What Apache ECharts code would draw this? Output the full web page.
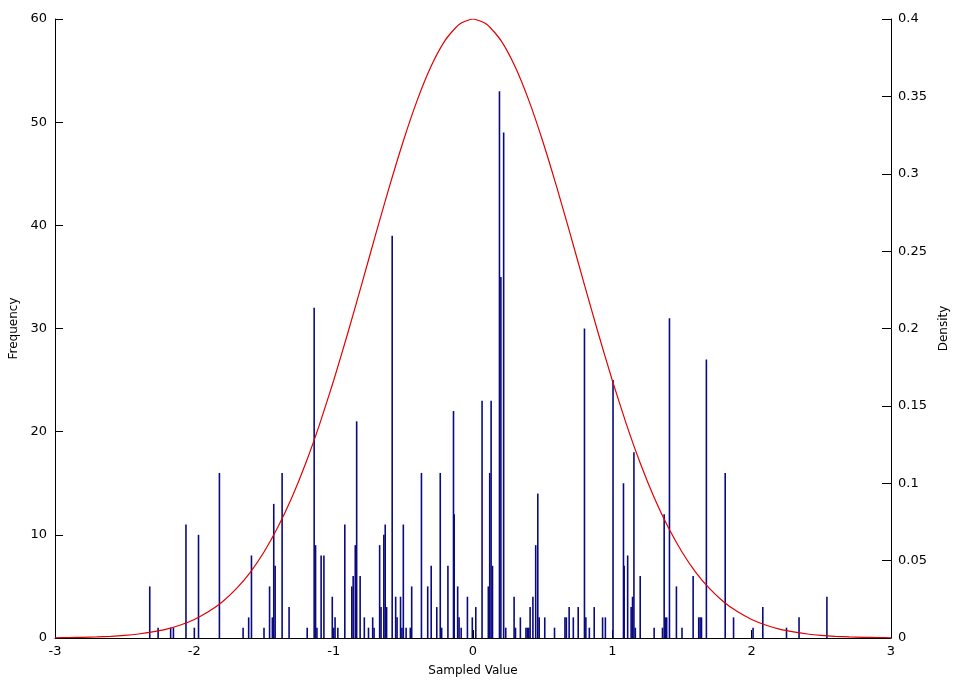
<!DOCTYPE html>
<html>
<head>
<meta charset="utf-8">
<script src="https://cdn.jsdelivr.net/npm/echarts@6/dist/echarts.min.js"></script>
<style>
  html, body { margin: 0; padding: 0; background: #fff; }
  #chart { width: 954px; height: 686px; }
</style>
</head>
<body>
<div id="chart"></div>
<script>
const sampleX = [
  -2.32, -2.26, -2.17, -2.15, -2.06, -2.00, -1.97, -1.82, -1.65, -1.61,
  -1.59, -1.50, -1.46, -1.44, -1.43, -1.42, -1.37, -1.32, -1.19, -1.14,
  -1.13, -1.12, -1.09, -1.07, -1.01, -1.00, -0.99, -0.97, -0.92, -0.87,
  -0.86, -0.845, -0.835, -0.81, -0.78, -0.75, -0.72, -0.71, -0.67, -0.66,
  -0.64, -0.63, -0.62, -0.58, -0.555, -0.545, -0.52, -0.51, -0.50, -0.48,
  -0.45, -0.44, -0.37, -0.325, -0.30, -0.26, -0.235, -0.225, -0.18, -0.14,
  -0.135, -0.11, -0.10, -0.085, -0.04, -0.005, 0.02, 0.065, 0.11, 0.12,
  0.13, 0.14, 0.19, 0.20, 0.22, 0.235, 0.295, 0.305, 0.34, 0.38,
  0.39, 0.40, 0.41, 0.43, 0.45, 0.465, 0.475, 0.515, 0.585, 0.66,
  0.67, 0.69, 0.72, 0.755, 0.80, 0.81, 0.835, 0.87, 0.93, 0.95,
  1.005, 1.08, 1.085, 1.11, 1.135, 1.145, 1.155, 1.165, 1.20, 1.30,
  1.36, 1.372, 1.38, 1.39, 1.41, 1.46, 1.50, 1.58, 1.62, 1.63,
  1.64, 1.675, 1.81, 1.87, 2.01, 2.08, 2.25, 2.34, 2.54
];
const frequency = [
  5, 1, 1, 1, 11, 1, 10, 16, 1, 2,
  8, 1, 5, 2, 13, 7, 16, 3, 1, 32,
  9, 1, 8, 8, 4, 1, 2, 1, 11, 5,
  6, 9, 21, 6, 2, 1, 2, 1, 9, 3,
  10, 11, 3, 39, 4, 2, 4, 1, 11, 1,
  1, 5, 16, 5, 7, 3, 16, 1, 7, 22,
  12, 5, 2, 1, 4, 2, 3, 23, 5, 16,
  23, 7, 53, 35, 49, 1, 4, 1, 2, 1,
  1, 1, 3, 4, 9, 14, 2, 2, 1, 2,
  2, 3, 2, 3, 30, 2, 1, 3, 2, 2,
  25, 15, 7, 8, 3, 4, 18, 1, 6, 1,
  1, 12, 2, 2, 31, 5, 1, 6, 2, 2,
  2, 27, 16, 2, 1, 3, 1, 2, 4
];

// density curve, read at steps of 0.1
const curveX = [
  -3.0, -2.9, -2.8, -2.7, -2.6, -2.5, -2.4, -2.3, -2.2, -2.1,
  -2.0, -1.9, -1.8, -1.7, -1.6, -1.5, -1.4, -1.3, -1.2, -1.1,
  -1.0, -0.9, -0.8, -0.7, -0.6, -0.5, -0.4, -0.3, -0.2, -0.1,
  0.0,
  0.1, 0.2, 0.3, 0.4, 0.5, 0.6, 0.7, 0.8, 0.9, 1.0,
  1.1, 1.2, 1.3, 1.4, 1.5, 1.6, 1.7, 1.8, 1.9, 2.0,
  2.1, 2.2, 2.3, 2.4, 2.5, 2.6, 2.7, 2.8, 2.9, 3.0
];
const density = [
  0.0001, 0.0003, 0.0004, 0.0007, 0.0011, 0.0017, 0.0026, 0.0039, 0.0057, 0.0084,
  0.0120, 0.0169, 0.0233, 0.0317, 0.0423, 0.0556, 0.0717, 0.0908, 0.1131, 0.1384,
  0.1664, 0.1966, 0.2282, 0.2603, 0.2917, 0.3212, 0.3476, 0.3696, 0.3862, 0.3965,
  0.4000,
  0.3965, 0.3862, 0.3696, 0.3476, 0.3212, 0.2917, 0.2603, 0.2282, 0.1966, 0.1664,
  0.1384, 0.1131, 0.0908, 0.0717, 0.0556, 0.0423, 0.0317, 0.0233, 0.0169, 0.0120,
  0.0084, 0.0057, 0.0039, 0.0026, 0.0017, 0.0011, 0.0007, 0.0004, 0.0003, 0.0001
];

const font = 'DejaVu Sans';
const chart = echarts.init(document.getElementById('chart'));

chart.setOption({
  animation: false,
  backgroundColor: '#fff',
  grid: { left: 55, right: 63, top: 19, bottom: 48, containLabel: false, outerBoundsMode: 'none' },
  xAxis: {
    type: 'value',
    min: -3,
    max: 3,
    interval: 1,
    name: 'Sampled Value',
    nameLocation: 'middle',
    nameGap: 27,
    nameTextStyle: { fontFamily: font, fontSize: 12, color: '#000' },
    axisLine: { show: true, onZero: false, lineStyle: { color: '#000', width: 1 } },
    axisTick: { show: true, inside: true, length: 8, lineStyle: { color: '#000' } },
    axisLabel: { fontFamily: font, fontSize: 13, color: '#000', margin: 7 },
    splitLine: { show: false }
  },
  yAxis: [
    {
      type: 'value',
      position: 'left',
      min: 0,
      max: 60,
      interval: 10,
      name: 'Frequency',
      nameLocation: 'middle',
      nameGap: 32,
      nameRotate: 90,
      nameTextStyle: { fontFamily: font, fontSize: 12, color: '#000' },
      axisLine: { show: true, onZero: false, lineStyle: { color: '#000', width: 1 } },
      axisTick: { show: true, inside: true, length: 8, lineStyle: { color: '#000' } },
      axisLabel: { fontFamily: font, fontSize: 13, color: '#000', margin: 8 },
      splitLine: { show: false }
    },
    {
      type: 'value',
      position: 'right',
      min: 0,
      max: 0.4,
      interval: 0.05,
      name: 'Density',
      nameLocation: 'middle',
      nameGap: 46,
      nameRotate: 90,
      nameTextStyle: { fontFamily: font, fontSize: 12, color: '#000' },
      axisLine: { show: true, onZero: false, lineStyle: { color: '#000', width: 1 } },
      axisTick: { show: true, inside: true, length: 9, lineStyle: { color: '#000' } },
      axisLabel: { fontFamily: font, fontSize: 13, color: '#000', margin: 7 },
      splitLine: { show: false }
    }
  ],
  series: [
    {
      name: 'Frequency',
      type: 'bar',
      yAxisIndex: 0,
      barWidth: 1.6,
      itemStyle: { color: '#0a0a80' },
      data: sampleX.map((x, i) => [x, frequency[i]])
    },
    {
      name: 'Density',
      type: 'line',
      yAxisIndex: 1,
      smooth: 0.2,
      symbol: 'none',
      lineStyle: { color: '#e00000', width: 1.2 },
      data: curveX.map((x, i) => [x, density[i]]),
      z: 3
    }
  ]
});
</script>
</body>
</html>
